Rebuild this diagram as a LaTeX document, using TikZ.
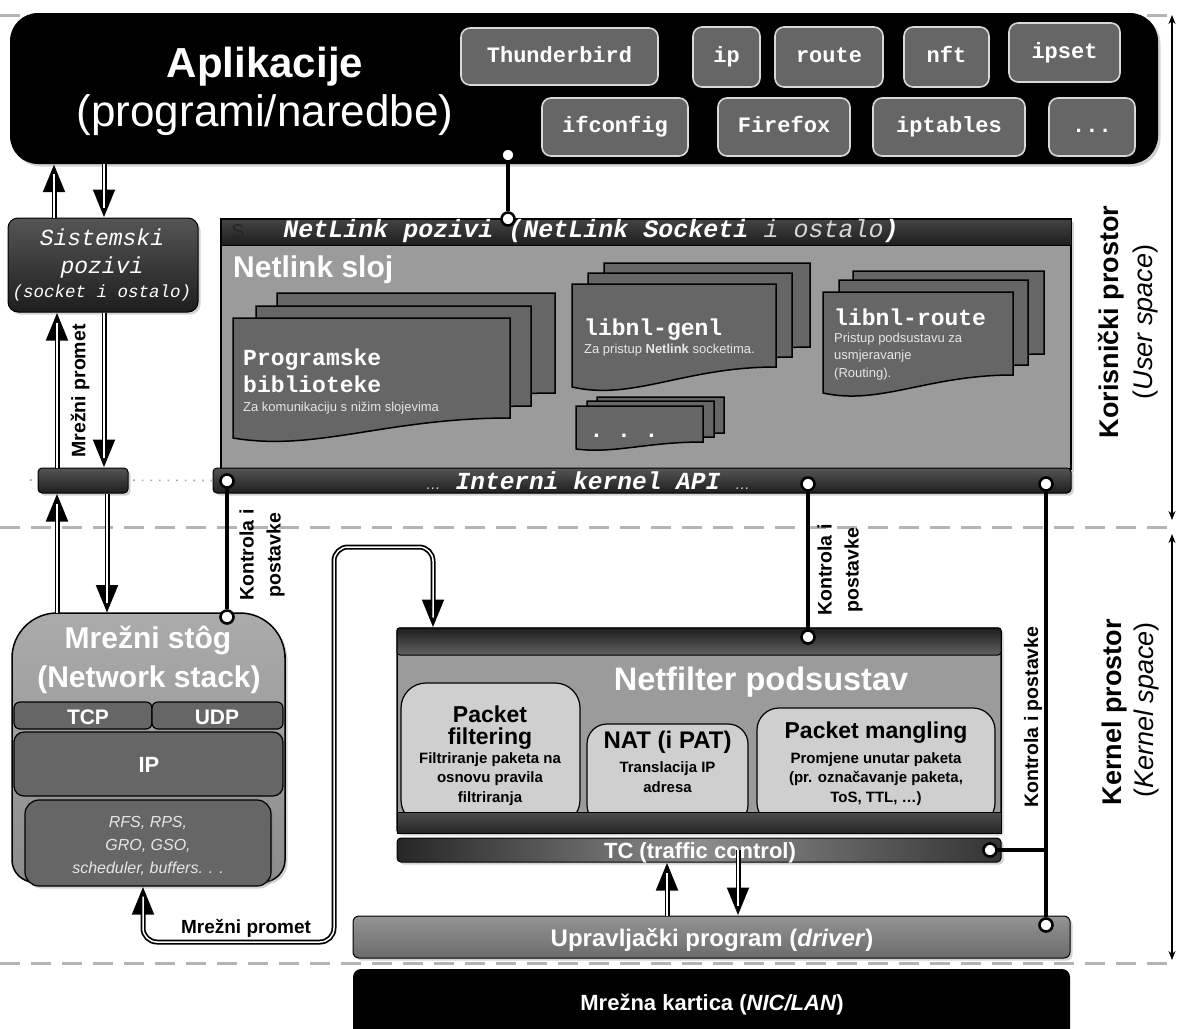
\documentclass[tikz,border=0pt]{standalone}
\usepackage{fontspec}
\setmainfont{Liberation Sans}
\setsansfont{Liberation Sans}
\setmonofont{Liberation Mono}
\usetikzlibrary{arrows.meta,shadows,calc}
\definecolor{pagec}{HTML}{666666}
\definecolor{bodyc}{HTML}{9B9B9B}
\definecolor{subc}{HTML}{CFCFCF}
\definecolor{sepc}{HTML}{B4B4B4}
\definecolor{dka}{HTML}{555555}
\definecolor{dkb}{HTML}{1E1E1E}
\definecolor{desc}{HTML}{E6E6E6}
\newcommand\fsz[2]{\fontsize{#1}{#2}\selectfont}
\newcommand\pgdoc[5]{\draw[pagest] (#1,#2) -- (#3,#2) -- (#3,#4) .. controls ({#1+0.55*(#3-#1)},#4) and ({#1+0.3*(#3-#1)},{#4+1.7*#5}) .. (#1,{#4+#5}) -- cycle;}
\begin{document}
\begin{tikzpicture}[x=1pt,y=-1pt,
  sep/.style={draw=sepc, line width=3pt, dash pattern=on 20pt off 11pt},
  sepdot/.style={draw=gray!70, line width=1.6pt, dash pattern=on 1.6pt off 7pt},
  shad/.style={drop shadow={opacity=0.35,shadow xshift=2.5pt,shadow yshift=-2.5pt}},
  appbtn/.style={draw=white!85!black, line width=1.6pt, fill=pagec, rounded corners=9pt, text=white, font=\ttfamily\bfseries\fsz{22}{26}, inner sep=0pt, text height=15pt, text depth=4pt},
  pagest/.style={fill=pagec, draw=black, line width=1.5pt},
  ctl/.style={line width=3.2pt, black},
  dot/.style={circle, draw=black, fill=white, line width=2.6pt, minimum size=13pt, inner sep=0pt},
  flowo/.style={line width=5pt, black, >={Triangle[length=28pt,width=21pt]}},
  flowi/.style={line width=1.5pt, white},
  darkbar/.style={draw=black, line width=1pt, top color=dka, bottom color=dkb, inner sep=0pt},
  subbox/.style={fill=subc, draw=black, line width=1.2pt, inner sep=0pt},
  wlabel/.style={text=white, inner sep=0pt},
  klabel/.style={font=\bfseries\fsz{19.5}{27}, align=center, rotate=90, inner sep=0pt},
  axisarr/.style={line width=1.2pt, {Stealth[length=9pt,width=7pt]}-{Stealth[length=9pt,width=7pt]}}
]
\useasboundingbox (0,0) rectangle (1177,1028);
\fill[white] (0,0) rectangle (1177,1028);

% separators
\coordinate (s0l) at (0,15); \coordinate (s0r) at (1177,15);
\coordinate (s1l) at (0,527); \coordinate (s1r) at (1177,527);
\coordinate (s2l) at (0,963); \coordinate (s2r) at (1177,963);
\draw[sep] (s0l) -- (s0r);
\draw[sep] (s1l) -- (s1r);
\draw[sep] (s2l) -- (s2r);

% axis arrows
\coordinate (ax1) at (1172,15); \coordinate (ax2) at (1172,520);
\coordinate (ax3) at (1172,534); \coordinate (ax4) at (1172,960);
\draw[axisarr] (ax1) -- (ax2);
\draw[axisarr] (ax3) -- (ax4);
\node[rotate=90, font=\bfseries\fsz{27}{30}] (kp1) at (1111,322) {Korisnički prostor};
\node[rotate=90, font=\fsz{27}{30}] (kp2) at (1146,322) {(\textit{User space})};
\node[rotate=90, font=\bfseries\fsz{27}{30}] (kk1) at (1115,712) {Kernel prostor};
\node[rotate=90, font=\fsz{27}{30}] (kk2) at (1147,710) {(\textit{Kernel space})};

% application box
\node[fill=black, rounded corners=28pt, minimum width=1148pt, minimum height=151pt, inner sep=0pt, shad] (app) at (584,88.5) {};
\node[anchor=base, wlabel, font=\bfseries\fsz{42}{48}] (aplA) at (265,77) {Aplikacije};
\node[anchor=base, wlabel, font=\fsz{44}{50}] (aplB) at (265,126) {(programi/naredbe)};
\node[appbtn, minimum width=197pt, minimum height=57pt] (bThu) at (559.5,56.5) {Thunderbird};
\node[appbtn, minimum width=67pt, minimum height=60pt] (bIp) at (726.5,57) {ip};
\node[appbtn, minimum width=108pt, minimum height=60pt] (bRoute) at (829,57) {route};
\node[appbtn, minimum width=85pt, minimum height=60pt] (bNft) at (946.5,57) {nft};
\node[appbtn, minimum width=111pt, minimum height=59pt] (bIpset) at (1064.5,52.5) {ipset};
\node[appbtn, minimum width=146pt, minimum height=58pt] (bIfc) at (615,127) {ifconfig};
\node[appbtn, minimum width=132pt, minimum height=58pt] (bFf) at (784,127) {Firefox};
\node[appbtn, minimum width=152pt, minimum height=58pt] (bIpt) at (949,127) {iptables};
\node[appbtn, minimum width=86pt, minimum height=58pt] (bDots) at (1092,127) {...};

% system calls box
\node[darkbar, rounded corners=10pt, minimum width=190pt, minimum height=94pt, shad] (sys) at (103,265) {};
\node[anchor=base, wlabel, font=\ttfamily\itshape\fsz{23}{27}] (sysA) at (102,245) {Sistemski};
\node[anchor=base, wlabel, font=\ttfamily\itshape\fsz{23}{27}] (sysB) at (102,273) {pozivi};
\node[anchor=base, wlabel, font=\ttfamily\itshape\fsz{17.5}{20}] (sysC) at (102,297) {(socket i ostalo)};

% netlink panel
\node[fill=bodyc, draw=black, line width=1.5pt, minimum width=850pt, minimum height=250pt, inner sep=0pt, shad] (nl) at (646,344) {};
\node[draw=black, line width=1pt, top color=dka!80!black, bottom color=dkb, minimum width=850pt, minimum height=26pt, inner sep=0pt] (nlh) at (646,232) {};
\node[font=\sffamily\fsz{20}{22}, text=black!85, inner sep=0pt] (sart) at (238,232) {S};
\node[wlabel, font=\ttfamily\bfseries\itshape\fsz{25}{28}] (nlht) at (591,231) {NetLink pozivi (NetLink Socketi\ {\mdseries\color{desc!85!gray}i ostalo})};
\node[anchor=base west, wlabel, font=\bfseries\fsz{30}{34}] (nlsl) at (233,277) {Netlink sloj};

% pages
\pgdoc{277}{293}{555}{393}{20}
\pgdoc{256}{306}{531}{406}{20}
\pgdoc{233}{318}{510}{418}{20}
\pgdoc{604}{263}{810}{347}{20}
\pgdoc{588}{273}{792}{357}{20}
\pgdoc{572}{284}{776}{367}{20}
\pgdoc{597}{397}{724}{433}{7}
\pgdoc{587}{401}{714}{437}{7}
\pgdoc{576}{406}{703}{442}{7}
\pgdoc{853}{271}{1044}{354}{18}
\pgdoc{839}{280}{1028}{365}{18}
\pgdoc{823}{292}{1013}{375}{18}
\node[anchor=base west, wlabel, font=\ttfamily\bfseries\fsz{23}{27}] (pbA) at (243,365) {Programske};
\node[anchor=base west, wlabel, font=\ttfamily\bfseries\fsz{23}{27}] (pbB) at (243,392) {biblioteke};
\node[anchor=base west, text=desc, inner sep=0pt, font=\fsz{13}{15}] (pbC) at (243,411) {Za komunikaciju s nižim slojevima};
\node[anchor=base west, wlabel, font=\ttfamily\bfseries\fsz{23}{27}] (lgA) at (584,335) {libnl-genl};
\node[anchor=base west, text=desc, inner sep=0pt, font=\fsz{13}{15}] (lgB) at (584,353) {Za pristup \textbf{Netlink} socketima.};
\node[anchor=base west, wlabel, font=\ttfamily\bfseries\fsz{23}{27}] (lrA) at (834,325) {libnl-route};
\node[anchor=base west, text=desc, inner sep=0pt, font=\fsz{13}{15}] (lrB) at (834,342) {Pristup podsustavu za};
\node[anchor=base west, text=desc, inner sep=0pt, font=\fsz{13}{15}] (lrC) at (834,359) {usmjeravanje};
\node[anchor=base west, text=desc, inner sep=0pt, font=\fsz{13}{15}] (lrD) at (834,377) {(Routing).};
\node[anchor=base, wlabel, font=\ttfamily\bfseries\fsz{23}{27}] (ddd) at (624,437) {. . .};

% interni kernel API bar with dotted lead
\coordinate (dl) at (30,480);
\node[darkbar, rounded corners=4pt, minimum width=858pt, minimum height=25pt, shad] (api) at (642,480.5) {};
\draw[sepdot] (dl) -- (api.west);
\node[wlabel, font=\ttfamily\bfseries\itshape\fsz{24.5}{26}] (apit) at (588,481) {{\sffamily\mdseries\fsz{15}{18}\color{desc!80!gray}…}\ Interni kernel API\ {\sffamily\mdseries\fsz{15}{18}\color{desc!80!gray}…}};
\node[darkbar, rounded corners=4pt, minimum width=90pt, minimum height=25pt, shad] (sbar) at (83,480.5) {};

% network stack
\path[draw=black, line width=1.5pt, top color=black!33, bottom color=black!45, shad]
  (12,700) [rounded corners=45pt] -- (12,613) -- (285,613) -- (285,700) [rounded corners=22pt] -- (285,882) -- (12,882) -- cycle;
\coordinate (nst) at (148,613);
\node[anchor=base, wlabel, font=\bfseries\fsz{30}{34}] (nsA) at (148,648) {Mrežni stôg};
\node[anchor=base, wlabel, font=\bfseries\fsz{30}{34}] (nsB) at (149,687) {(Network stack)};
\node[fill=pagec, draw=black, line width=1.2pt, rounded corners=6pt, minimum width=138pt, minimum height=27pt, inner sep=0pt] (tcp) at (83,715.5) {};
\node[fill=pagec, draw=black, line width=1.2pt, rounded corners=6pt, minimum width=131pt, minimum height=27pt, inner sep=0pt] (udp) at (217.5,715.5) {};
\node[anchor=base, wlabel, font=\bfseries\fsz{21}{24}] (tcpt) at (88,724) {TCP};
\node[anchor=base, wlabel, font=\bfseries\fsz{21}{24}] (udpt) at (217,724) {UDP};
\node[fill=pagec, draw=black, line width=1.2pt, rounded corners=10pt, minimum width=269pt, minimum height=64pt, inner sep=0pt] (ip) at (148.5,764) {};
\node[anchor=base, wlabel, font=\bfseries\fsz{22}{24}] (ipt) at (149,772) {IP};
\node[fill=pagec, draw=black, line width=1.2pt, rounded corners=14pt, minimum width=246pt, minimum height=86pt, inner sep=0pt, shad] (rfs) at (148,843) {};
\node[anchor=base, text=desc, inner sep=0pt, font=\itshape\fsz{16}{18}] (rfsA) at (148,827) {RFS, RPS,};
\node[anchor=base, text=desc, inner sep=0pt, font=\itshape\fsz{16}{18}] (rfsB) at (148,850) {GRO, GSO,};
\node[anchor=base, text=desc, inner sep=0pt, font=\itshape\fsz{16}{18}] (rfsC) at (148,873) {scheduler, buffers. . .};

% netfilter
\node[fill=bodyc, draw=black, line width=1.5pt, rounded corners=3pt, minimum width=604pt, minimum height=205pt, inner sep=0pt, shad] (nf) at (699,730.5) {};
\node[draw=black, line width=1pt, rounded corners=3pt, top color=black!88, bottom color=black!62, minimum width=604pt, minimum height=27pt, inner sep=0pt] (nft) at (699,641.5) {};
\node[anchor=base, wlabel, font=\bfseries\fsz{32.5}{36}] (nftt) at (761,690) {Netfilter podsustav};
\node[subbox, rounded corners=25pt, minimum width=179pt, minimum height=142pt] (pf) at (490.5,754) {};
\node[subbox, rounded corners=20pt, minimum width=161pt, minimum height=101pt] (nat) at (667.5,774.5) {};
\node[subbox, rounded corners=22pt, minimum width=238pt, minimum height=117pt] (pm) at (876,766.5) {};
\node[draw=black, line width=1pt, top color=black!70, bottom color=black!85, minimum width=604pt, minimum height=21pt, inner sep=0pt] (nfb) at (699,822.5) {};
\node[anchor=base, inner sep=0pt, font=\bfseries\fsz{23}{26}] (pfA) at (490,722) {Packet};
\node[anchor=base, inner sep=0pt, font=\bfseries\fsz{23}{26}] (pfB) at (490,744) {filtering};
\node[anchor=base, inner sep=0pt, font=\bfseries\fsz{15}{18}] (pfC) at (490,763) {Filtriranje paketa na};
\node[anchor=base, inner sep=0pt, font=\bfseries\fsz{15}{18}] (pfD) at (490,782) {osnovu pravila};
\node[anchor=base, inner sep=0pt, font=\bfseries\fsz{15}{18}] (pfE) at (490,802) {filtriranja};
\node[anchor=base, inner sep=0pt, font=\bfseries\fsz{24}{26}] (natA) at (667.5,748) {NAT (i PAT)};
\node[anchor=base, inner sep=0pt, font=\bfseries\fsz{15}{18}] (natB) at (667.5,772) {Translacija IP};
\node[anchor=base, inner sep=0pt, font=\bfseries\fsz{15}{18}] (natC) at (667.5,792) {adresa};
\node[anchor=base, inner sep=0pt, font=\bfseries\fsz{23}{26}] (pmA) at (876,738) {Packet mangling};
\node[anchor=base, inner sep=0pt, font=\bfseries\fsz{15}{18}] (pmB) at (876,763) {Promjene unutar paketa};
\node[anchor=base, inner sep=0pt, font=\bfseries\fsz{15}{18}] (pmC) at (876,782) {(pr. označavanje paketa,};
\node[anchor=base, inner sep=0pt, font=\bfseries\fsz{15}{18}] (pmD) at (876,802) {ToS, TTL, …)};

% TC bar
\node[draw=black, line width=1pt, rounded corners=4pt, left color=black!85, right color=black!80, middle color=black!45, minimum width=604pt, minimum height=24pt, inner sep=0pt, shad] (tc) at (699,850) {};
\node[anchor=base, wlabel, font=\bfseries\fsz{22}{24}] (tct) at (700,858) {TC (traffic control)};

% driver and NIC
\node[draw=black, line width=1pt, rounded corners=6pt, top color=black!42, bottom color=black!58, minimum width=717pt, minimum height=42pt, inner sep=0pt, shad] (drv) at (711.5,937) {};
\node[anchor=base, wlabel, font=\bfseries\fsz{24}{26}] (drvt) at (712,946) {Upravljački program (\textit{driver})};
\node[fill=black, rounded corners=8pt, minimum width=717pt, minimum height=75pt, inner sep=0pt] (nic) at (711.5,1006.5) {};
\node[anchor=base, wlabel, font=\bfseries\fsz{22}{24}] (nict) at (712,1010) {Mrežna kartica (\textit{NIC/LAN})};

% flow arrows (double lines)
\coordinate (xa) at (54,0); \coordinate (xb) at (104,0);
\coordinate (xc) at (57,0); \coordinate (xd) at (104,0);
\coordinate (xe) at (57,0); \coordinate (xf) at (107,0);
\coordinate (xg) at (667,0); \coordinate (xh) at (738,0);
\draw[flowo,->] (sys.north -| xa) -- (app.south -| xa);
\draw[flowi, shorten >=10pt] (sys.north -| xa) -- (app.south -| xa);
\draw[flowo,->] (app.south -| xb) -- (sys.north -| xb);
\draw[flowi, shorten >=10pt] (app.south -| xb) -- (sys.north -| xb);
\draw[flowo,->] (sbar.north -| xc) -- (sys.south -| xc);
\draw[flowi, shorten >=10pt] (sbar.north -| xc) -- (sys.south -| xc);
\draw[flowo,->] (sys.south -| xd) -- (sbar.north -| xd);
\draw[flowi, shorten >=10pt] (sys.south -| xd) -- (sbar.north -| xd);
\draw[flowo,->] (nst -| xe) -- (sbar.south -| xe);
\draw[flowi, shorten >=10pt] (nst -| xe) -- (sbar.south -| xe);
\draw[flowo,->] (sbar.south -| xf) -- (nst -| xf);
\draw[flowi, shorten >=10pt] (sbar.south -| xf) -- (nst -| xf);
\draw[flowo,->] (drv.north -| xg) -- (tc.south -| xg);
\draw[flowi, shorten >=10pt] (drv.north -| xg) -- (tc.south -| xg);
\draw[flowo,->] (tc.center -| xh) -- (drv.north -| xh);
\draw[flowi, shorten >=10pt] (tc.center -| xh) -- (drv.north -| xh);
\coordinate (m1) at (143,942); \coordinate (m2) at (334,942);
\coordinate (m3) at (334,547); \coordinate (m4) at (433,547);
\draw[flowo, rounded corners=14pt, <->] (rfs.south -| m1) -- (m1) -- (m2) -- (m3) -- (m4) -- (nft.north -| m4);
\draw[flowi, rounded corners=14pt, shorten >=10pt, shorten <=10pt] (rfs.south -| m1) -- (m1) -- (m2) -- (m3) -- (m4) -- (nft.north -| m4);
\node[anchor=base, font=\bfseries\fsz{19}{22}, inner sep=0pt] (mpb) at (246,933) {Mrežni promet};
\node[klabel] (mpv) at (80,391) {Mrežni promet};

% control connections
\node[dot] (c0) at (508,155) {};
\node[dot] (c1) at (508,219) {};
\node[dot] (ca1) at (227,481) {};
\node[dot] (ca2) at (808,484) {};
\node[dot] (ca3) at (1046,484) {};
\node[dot] (cns) at (227,617) {};
\node[dot] (cnf) at (808,637) {};
\node[dot] (cdrv) at (1046,925) {};
\node[dot] (ctc) at (990,850) {};
\draw[ctl] (c0) -- (c1);
\draw[ctl] (ca1) -- (cns);
\draw[ctl] (ca2) -- (cnf);
\draw[ctl] (ca3) -- (cdrv);
\draw[ctl] (ctc) -- (ctc -| ca3);
\node[klabel] (kl1) at (262,555) {Kontrola i\\postavke};
\node[klabel] (kl2) at (840,570) {Kontrola i\\postavke};
\node[klabel] (kl3) at (1033,717) {Kontrola i postavke};
\end{tikzpicture}
\end{document}
